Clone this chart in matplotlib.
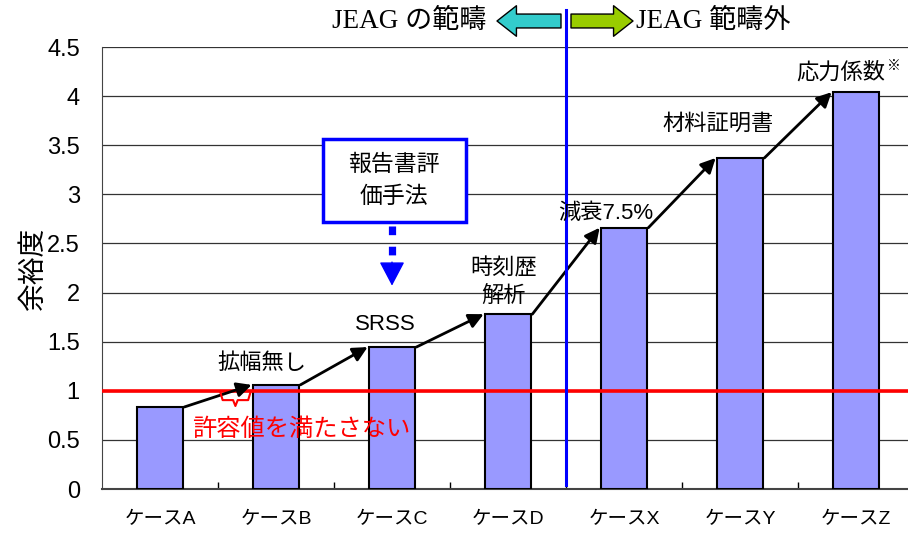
import matplotlib
matplotlib.use('Agg')
import matplotlib.pyplot as plt
from matplotlib.patches import Rectangle, FancyArrowPatch

plt.rcParams['font.family'] = ['Liberation Sans', 'Noto Sans CJK JP']

# data
cases = ['ケースA', 'ケースB', 'ケースC', 'ケースD', 'ケースX', 'ケースY', 'ケースZ']
margin = [0.835, 1.06, 1.445, 1.78, 2.66, 3.37, 4.04]
step_labels = ['拡幅無し', 'SRSS', '時刻歴\n解析', '減衰7.5%', '材料証明書', '応力係数']
step_label_pos = [(0.88, 1.28), (1.94, 1.67), (2.96, 2.10), (3.84, 2.81), (4.81, 3.71), (5.87, 4.24)]
yticks = [0, 0.5, 1, 1.5, 2, 2.5, 3, 3.5, 4, 4.5]
allowable = 1.0

fig = plt.figure(figsize=(9.08, 5.36), dpi=100)
ax = fig.add_axes([102 / 908, 47 / 536, 812 / 908, 442 / 536])

x = list(range(len(cases)))
ax.bar(x, margin, width=0.4, color='#9999FF', edgecolor='black', linewidth=1.5, zorder=3)

ax.set_xlim(-0.5, 6.5)
ax.set_ylim(0, 4.5)
ax.set_yticks(yticks)
ax.set_yticklabels([f'{t:g}' for t in yticks], fontsize=17)
ax.tick_params(axis='y', length=0, pad=16)
ax.set_xticks(x)
ax.set_xticklabels(cases, fontsize=14)
ax.tick_params(axis='x', which='major', length=0, pad=16)
ax.set_xticks([i + 0.5 for i in range(6)], minor=True)
ax.tick_params(axis='x', which='minor', direction='in', length=5, width=1)
ax.grid(axis='y', color='#333333', linewidth=0.9, zorder=0)
ax.set_axisbelow(True)
for s in ['top', 'right']:
    ax.spines[s].set_visible(False)
ax.spines['left'].set_color('#444444')
ax.spines['bottom'].set_color('#444444')
ax.spines['bottom'].set_linewidth(1.5)

ax.set_ylabel('余裕度', fontsize=20, labelpad=0)

# allowable line
ax.axhline(allowable, color='red', linewidth=2.6, zorder=5)

# step arrows between bars
for i in range(len(cases) - 1):
    ax.annotate('', xy=(i + 0.79, margin[i + 1]), xytext=(i + 0.21, margin[i]),
                arrowprops=dict(arrowstyle='-|>', color='black', lw=2,
                                mutation_scale=22, shrinkA=0, shrinkB=0),
                zorder=6)
step_texts = []
for lab, (lx, ly) in zip(step_labels, step_label_pos):
    t = ax.text(lx, ly, lab, fontsize=16, ha='center', va='center', zorder=7,
                linespacing=1.35)
    step_texts.append(t)
ax.annotate('※', xy=(1.0, 1.0), xycoords=step_texts[-1], xytext=(1, 2),
            textcoords='offset points', fontsize=10, ha='left', va='top')

# JEAG boundary line
ax.plot([3.5, 3.5], [0.04, 4.88], color='blue', lw=2.2, clip_on=False, zorder=6)

# evaluation method box
ax.add_patch(Rectangle((1.405, 2.72), 1.235, 0.84, facecolor='white',
                       edgecolor='blue', linewidth=2.5, zorder=7))
ax.text(2.02, 3.14, '報告書評\n価手法', fontsize=16.5, ha='center', va='center',
        linespacing=1.5, zorder=8)
ax.plot([2.0, 2.0], [2.68, 2.36], color='blue', lw=5.2, dashes=(1.2, 1.6),
        solid_capstyle='butt', zorder=7)
ax.annotate('', xy=(2.0, 2.07), xytext=(2.0, 2.31),
            arrowprops=dict(arrowstyle='-|>,head_length=0.95,head_width=0.5',
                            color='blue', lw=1, mutation_scale=16,
                            shrinkA=0, shrinkB=0), zorder=7)

# red bracket and note
bx = [0.52, 0.54, 0.63, 0.65, 0.67, 0.76, 0.78]
by = [0.985, 0.905, 0.905, 0.845, 0.905, 0.905, 0.985]
ax.plot(bx, by, color='red', lw=1.5, zorder=6)
ax.text(0.28, 0.60, '許容値を満たさない', color='red', fontsize=17.5,
        ha='left', va='center', zorder=7)

# header
serif = ['Liberation Serif', 'Noto Sans CJK JP']
fig.text(486 / 908, 1 - 21 / 536, 'JEAG の範疇', family=serif, fontsize=19.5,
         ha='right', va='center')
fig.text(636 / 908, 1 - 21 / 536, 'JEAG 範疇外', family=serif, fontsize=19.5,
         ha='left', va='center')
arrow_style = 'simple,head_length=14,head_width=22,tail_width=10'
fig.patches.append(FancyArrowPatch((561 / 908, 1 - 21 / 536), (497 / 908, 1 - 21 / 536),
                                   transform=fig.transFigure, arrowstyle=arrow_style,
                                   mutation_scale=1, shrinkA=0, shrinkB=0,
                                   facecolor='#33CCCC', edgecolor='black', lw=1))
fig.patches.append(FancyArrowPatch((571 / 908, 1 - 21 / 536), (633 / 908, 1 - 21 / 536),
                                   transform=fig.transFigure, arrowstyle=arrow_style,
                                   mutation_scale=1, shrinkA=0, shrinkB=0,
                                   facecolor='#99CC00', edgecolor='black', lw=1))

fig.savefig('out.png', dpi=100)
